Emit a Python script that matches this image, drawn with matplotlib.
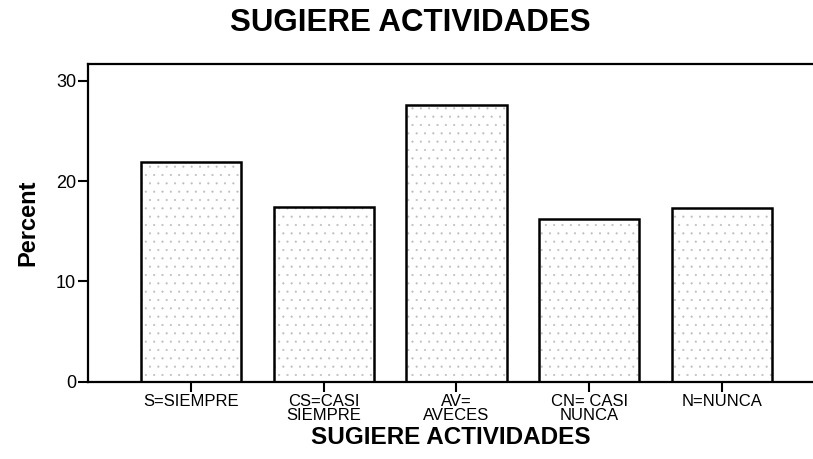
import matplotlib
matplotlib.use("Agg")
import matplotlib.pyplot as plt

categories = ["S=SIEMPRE", "CS=CASI\nSIEMPRE", "AV=\nAVECES", "CN= CASI\nNUNCA", "N=NUNCA"]
percent = [21.9, 17.4, 27.6, 16.2, 17.3]
yticks = [0, 10, 20, 30]

plt.rcParams['font.family'] = ['Liberation Sans', 'DejaVu Sans']
plt.rcParams['hatch.linewidth'] = 0.3

fig = plt.figure(figsize=(8.13, 4.59), dpi=100)
ax = fig.add_axes([88/813, (459-381.7)/459, 1 - 88/813, (381.7-64.3)/459])

x = list(range(len(categories)))
# stipple fill (grey dots)
ax.bar(x, percent, width=0.755, facecolor='white', edgecolor='#bdbdbd',
       linewidth=0, hatch='..', zorder=2)
# black outline
ax.bar(x, percent, width=0.755, facecolor='none', edgecolor='black',
       linewidth=1.8, zorder=3)

ax.set_xlim(-0.776, 4.686)
ax.set_ylim(0, 31.63)
ax.set_xticks(x)
ax.set_xticklabels(categories, fontsize=12, linespacing=0.95)
ax.set_yticks(yticks)
ax.set_yticklabels([str(v) for v in yticks], fontsize=13)
ax.tick_params(axis='both', direction='out', length=7, width=1.5, pad=1.5, colors='black')

for s in ['left', 'bottom', 'top']:
    ax.spines[s].set_linewidth(1.6)
ax.spines['right'].set_visible(False)

ax.set_ylabel("Percent", fontsize=17, fontweight='bold', labelpad=12)
ax.set_xlabel("SUGIERE ACTIVIDADES", fontsize=17.5, fontweight='bold', labelpad=2)
fig.text(410/813, 1 - 23/459, "SUGIERE ACTIVIDADES", fontsize=22.5, fontweight='bold',
         ha='center', va='center')

fig.savefig("out.png", dpi=100)
